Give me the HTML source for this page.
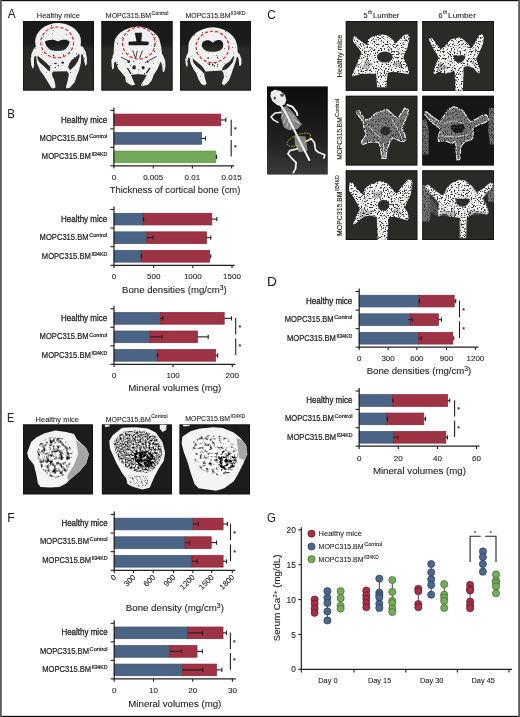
<!DOCTYPE html>
<html><head><meta charset="utf-8"><style>
html,body{margin:0;padding:0;background:#fff;width:520px;height:717px;overflow:hidden}
svg{display:block;will-change:transform;filter:blur(0.3px)}
text{font-family:"Liberation Sans", sans-serif;stroke:#231f20;stroke-width:0.1px}
.cl{stroke-width:0.22px}
</style></head><body>
<svg width="520" height="717" viewBox="0 0 520 717">
<defs><linearGradient id="gA" x1="0" y1="0" x2="0" y2="1"><stop offset="0" stop-color="#1a1a1a"/><stop offset="0.32" stop-color="#1b1b1b"/><stop offset="0.4" stop-color="#2a2a27"/><stop offset="1" stop-color="#2d2c29"/></linearGradient><linearGradient id="gAL" gradientUnits="userSpaceOnUse" x1="0" y1="0" x2="0" y2="510"><stop offset="0" stop-color="#1a1a1a"/><stop offset="0.32" stop-color="#1b1b1b"/><stop offset="0.4" stop-color="#2a2a27"/><stop offset="1" stop-color="#2d2c29"/></linearGradient><linearGradient id="gM" x1="0" y1="0" x2="0" y2="1"><stop offset="0" stop-color="#0c0c0c"/><stop offset="0.6" stop-color="#202020"/><stop offset="1" stop-color="#3a3a3a"/></linearGradient><clipPath id="c3"><rect x="23" y="21" width="71" height="69.5"/></clipPath><filter id="f4" x="0" y="0" width="1" height="1" color-interpolation-filters="sRGB"><feTurbulence type="fractalNoise" baseFrequency="0.9" numOctaves="2" seed="3" result="t"/><feColorMatrix in="t" type="matrix" values="0 0 0 0 0 0 0 0 0 0 0 0 0 0 0 -10 0 0 0 2.7" result="a"/><feFlood flood-color="#1a1a1a"/><feComposite in2="a" operator="in" result="d"/><feComposite in="d" in2="SourceGraphic" operator="atop"/></filter><clipPath id="c5"><rect x="101.5" y="21" width="71.0" height="69.5"/></clipPath><filter id="f6" x="0" y="0" width="1" height="1" color-interpolation-filters="sRGB"><feTurbulence type="fractalNoise" baseFrequency="0.9" numOctaves="2" seed="4" result="t"/><feColorMatrix in="t" type="matrix" values="0 0 0 0 0 0 0 0 0 0 0 0 0 0 0 -10 0 0 0 2.7" result="a"/><feFlood flood-color="#1a1a1a"/><feComposite in2="a" operator="in" result="d"/><feComposite in="d" in2="SourceGraphic" operator="atop"/></filter><clipPath id="c7"><rect x="180.2" y="21" width="70.70000000000002" height="69.5"/></clipPath><filter id="f8" x="0" y="0" width="1" height="1" color-interpolation-filters="sRGB"><feTurbulence type="fractalNoise" baseFrequency="0.9" numOctaves="2" seed="5" result="t"/><feColorMatrix in="t" type="matrix" values="0 0 0 0 0 0 0 0 0 0 0 0 0 0 0 -10 0 0 0 2.7" result="a"/><feFlood flood-color="#1a1a1a"/><feComposite in2="a" operator="in" result="d"/><feComposite in="d" in2="SourceGraphic" operator="atop"/></filter><clipPath id="c9"><rect x="345.8" y="21" width="71.5" height="69.8"/></clipPath><filter id="f10" x="0" y="0" width="1" height="1" color-interpolation-filters="sRGB"><feTurbulence type="fractalNoise" baseFrequency="0.7" numOctaves="2" seed="7" result="t"/><feColorMatrix in="t" type="matrix" values="0 0 0 0 0 0 0 0 0 0 0 0 0 0 0 -9 0 0 0 4.1" result="a"/><feFlood flood-color="#3a3a3a"/><feComposite in2="a" operator="in" result="d"/><feComposite in="d" in2="SourceGraphic" operator="atop"/></filter><clipPath id="c11"><rect x="422.3" y="21" width="71.69999999999999" height="69.8"/></clipPath><filter id="f12" x="0" y="0" width="1" height="1" color-interpolation-filters="sRGB"><feTurbulence type="fractalNoise" baseFrequency="0.7" numOctaves="2" seed="8" result="t"/><feColorMatrix in="t" type="matrix" values="0 0 0 0 0 0 0 0 0 0 0 0 0 0 0 -9 0 0 0 4.1" result="a"/><feFlood flood-color="#3a3a3a"/><feComposite in2="a" operator="in" result="d"/><feComposite in="d" in2="SourceGraphic" operator="atop"/></filter><clipPath id="c13"><rect x="345.8" y="95.8" width="71.5" height="69.60000000000001"/></clipPath><filter id="f14" x="0" y="0" width="1" height="1" color-interpolation-filters="sRGB"><feTurbulence type="fractalNoise" baseFrequency="0.7" numOctaves="2" seed="9" result="t"/><feColorMatrix in="t" type="matrix" values="0 0 0 0 0 0 0 0 0 0 0 0 0 0 0 -9 0 0 0 4.1" result="a"/><feFlood flood-color="#3a3a3a"/><feComposite in2="a" operator="in" result="d"/><feComposite in="d" in2="SourceGraphic" operator="atop"/></filter><clipPath id="c15"><rect x="422.3" y="95.8" width="71.69999999999999" height="69.60000000000001"/></clipPath><filter id="f16" x="0" y="0" width="1" height="1" color-interpolation-filters="sRGB"><feTurbulence type="fractalNoise" baseFrequency="0.7" numOctaves="2" seed="10" result="t"/><feColorMatrix in="t" type="matrix" values="0 0 0 0 0 0 0 0 0 0 0 0 0 0 0 -9 0 0 0 4.1" result="a"/><feFlood flood-color="#3a3a3a"/><feComposite in2="a" operator="in" result="d"/><feComposite in="d" in2="SourceGraphic" operator="atop"/></filter><clipPath id="c17"><rect x="345.8" y="170.4" width="71.5" height="69.6"/></clipPath><filter id="f18" x="0" y="0" width="1" height="1" color-interpolation-filters="sRGB"><feTurbulence type="fractalNoise" baseFrequency="0.7" numOctaves="2" seed="11" result="t"/><feColorMatrix in="t" type="matrix" values="0 0 0 0 0 0 0 0 0 0 0 0 0 0 0 -9 0 0 0 4.1" result="a"/><feFlood flood-color="#3a3a3a"/><feComposite in2="a" operator="in" result="d"/><feComposite in="d" in2="SourceGraphic" operator="atop"/></filter><clipPath id="c19"><rect x="422.3" y="170.4" width="71.69999999999999" height="69.6"/></clipPath><filter id="f20" x="0" y="0" width="1" height="1" color-interpolation-filters="sRGB"><feTurbulence type="fractalNoise" baseFrequency="0.7" numOctaves="2" seed="12" result="t"/><feColorMatrix in="t" type="matrix" values="0 0 0 0 0 0 0 0 0 0 0 0 0 0 0 -9 0 0 0 4.1" result="a"/><feFlood flood-color="#3a3a3a"/><feComposite in2="a" operator="in" result="d"/><feComposite in="d" in2="SourceGraphic" operator="atop"/></filter><clipPath id="c21"><rect x="267" y="86.4" width="60.80000000000001" height="88.19999999999999"/></clipPath><clipPath id="ce0"><rect x="23.1" y="424.5" width="69.80000000000001" height="69.80000000000001"/></clipPath><filter id="t23" x="0" y="0" width="1" height="1" color-interpolation-filters="sRGB"><feTurbulence type="fractalNoise" baseFrequency="1.0" numOctaves="2" seed="21" result="t"/><feColorMatrix in="t" type="matrix" values="2.2 0 0 0 -0.45 2.2 0 0 0 -0.45 2.2 0 0 0 -0.45 0 0 0 0 1" result="g"/><feComposite in="g" in2="SourceGraphic" operator="in"/></filter><filter id="t24" x="0" y="0" width="1" height="1" color-interpolation-filters="sRGB"><feTurbulence type="fractalNoise" baseFrequency="0.3" numOctaves="2" seed="22" result="t"/><feColorMatrix in="t" type="matrix" values="2.6 0 0 0 -0.55 2.6 0 0 0 -0.55 2.6 0 0 0 -0.55 0 0 0 0 1" result="g"/><feComposite in="g" in2="SourceGraphic" operator="in"/></filter><clipPath id="ce1"><rect x="101.9" y="424.5" width="70.0" height="69.80000000000001"/></clipPath><filter id="t26" x="0" y="0" width="1" height="1" color-interpolation-filters="sRGB"><feTurbulence type="fractalNoise" baseFrequency="0.55" numOctaves="2" seed="23" result="t"/><feColorMatrix in="t" type="matrix" values="2.0 0 0 0 -0.42 2.0 0 0 0 -0.42 2.0 0 0 0 -0.42 0 0 0 0 1" result="g"/><feComposite in="g" in2="SourceGraphic" operator="in"/></filter><filter id="t27" x="0" y="0" width="1" height="1" color-interpolation-filters="sRGB"><feTurbulence type="fractalNoise" baseFrequency="0.4" numOctaves="2" seed="24" result="t"/><feColorMatrix in="t" type="matrix" values="3.2 0 0 0 -1.45 3.2 0 0 0 -1.45 3.2 0 0 0 -1.45 0 0 0 0 1" result="g"/><feComposite in="g" in2="SourceGraphic" operator="in"/></filter><filter id="t28" x="0" y="0" width="1" height="1" color-interpolation-filters="sRGB"><feTurbulence type="fractalNoise" baseFrequency="0.8" numOctaves="2" seed="25" result="t"/><feColorMatrix in="t" type="matrix" values="2.2 0 0 0 -0.15 2.2 0 0 0 -0.15 2.2 0 0 0 -0.15 0 0 0 0 1" result="g"/><feComposite in="g" in2="SourceGraphic" operator="in"/></filter><clipPath id="ce2"><rect x="179.6" y="424.5" width="70.4" height="69.80000000000001"/></clipPath><filter id="t30" x="0" y="0" width="1" height="1" color-interpolation-filters="sRGB"><feTurbulence type="fractalNoise" baseFrequency="1.0" numOctaves="2" seed="26" result="t"/><feColorMatrix in="t" type="matrix" values="2.2 0 0 0 -0.45 2.2 0 0 0 -0.45 2.2 0 0 0 -0.45 0 0 0 0 1" result="g"/><feComposite in="g" in2="SourceGraphic" operator="in"/></filter><filter id="t31" x="0" y="0" width="1" height="1" color-interpolation-filters="sRGB"><feTurbulence type="fractalNoise" baseFrequency="0.32" numOctaves="2" seed="27" result="t"/><feColorMatrix in="t" type="matrix" values="2.8 0 0 0 -0.42 2.8 0 0 0 -0.42 2.8 0 0 0 -0.42 0 0 0 0 1" result="g"/><feComposite in="g" in2="SourceGraphic" operator="in"/></filter><filter id="t32" x="0" y="0" width="1" height="1" color-interpolation-filters="sRGB"><feTurbulence type="fractalNoise" baseFrequency="0.35" numOctaves="2" seed="28" result="t"/><feColorMatrix in="t" type="matrix" values="3.4 0 0 0 -1.2 3.4 0 0 0 -1.2 3.4 0 0 0 -1.2 0 0 0 0 1" result="g"/><feComposite in="g" in2="SourceGraphic" operator="in"/></filter></defs>
<rect width="520" height="717" fill="#fff"/>
<text x="7.7" y="18" font-size="12.8" textLength="7.9" lengthAdjust="spacingAndGlyphs" fill="#231f20" style="stroke-width:0.05px">A</text>
<text x="7.3" y="118" font-size="12.8" textLength="7.65" lengthAdjust="spacingAndGlyphs" fill="#231f20" style="stroke-width:0.05px">B</text>
<text x="267.2" y="18.6" font-size="12.8" textLength="8.4" lengthAdjust="spacingAndGlyphs" fill="#231f20" style="stroke-width:0.05px">C</text>
<text x="267.0" y="285.8" font-size="12.8" textLength="9.9" lengthAdjust="spacingAndGlyphs" fill="#231f20" style="stroke-width:0.05px">D</text>
<text x="7.0" y="421.5" font-size="12.8" textLength="7.2" lengthAdjust="spacingAndGlyphs" fill="#231f20" style="stroke-width:0.05px">E</text>
<text x="7.2" y="522.3" font-size="12.8" textLength="7.5" lengthAdjust="spacingAndGlyphs" fill="#231f20" style="stroke-width:0.05px">F</text>
<text x="267.0" y="522" font-size="12.8" textLength="8.85" lengthAdjust="spacingAndGlyphs" fill="#231f20" style="stroke-width:0.05px">G</text>
<rect x="113.9" y="114.08" width="106.90" height="11.70" fill="#9d3344" stroke="#8a2233" stroke-width="0.7"/>
<line x1="220.8" y1="119.935" x2="225.8" y2="119.935" stroke="#231f20" stroke-width="1.1"/>
<line x1="225.8" y1="117.83500000000001" x2="225.8" y2="122.035" stroke="#231f20" stroke-width="1.1"/>
<rect x="113.9" y="132.56" width="87.60" height="11.70" fill="#4b6384" stroke="#3a5272" stroke-width="0.7"/>
<line x1="201.5" y1="138.40500000000003" x2="205.5" y2="138.40500000000003" stroke="#231f20" stroke-width="1.1"/>
<line x1="205.5" y1="136.30500000000004" x2="205.5" y2="140.50500000000002" stroke="#231f20" stroke-width="1.1"/>
<rect x="113.9" y="151.03" width="101.90" height="11.70" fill="#74a85b" stroke="#5e9445" stroke-width="0.7"/>
<line x1="215.8" y1="156.875" x2="216.5" y2="156.875" stroke="#231f20" stroke-width="1.1"/>
<line x1="216.5" y1="154.775" x2="216.5" y2="158.975" stroke="#231f20" stroke-width="1.1"/>
<line x1="113.9" y1="107.4" x2="113.9" y2="166.41" stroke="#231f20" stroke-width="1.2"/>
<line x1="113.30000000000001" y1="165.81" x2="234.2" y2="165.81" stroke="#231f20" stroke-width="1.2"/>
<line x1="110.30000000000001" y1="110.4" x2="113.9" y2="110.4" stroke="#231f20" stroke-width="1.1"/>
<line x1="110.30000000000001" y1="128.87" x2="113.9" y2="128.87" stroke="#231f20" stroke-width="1.1"/>
<line x1="110.30000000000001" y1="147.34" x2="113.9" y2="147.34" stroke="#231f20" stroke-width="1.1"/>
<line x1="110.30000000000001" y1="165.81" x2="113.9" y2="165.81" stroke="#231f20" stroke-width="1.1"/>
<line x1="113.9" y1="165.81" x2="113.9" y2="168.61" stroke="#231f20" stroke-width="1.1"/>
<line x1="153.2" y1="165.81" x2="153.2" y2="168.61" stroke="#231f20" stroke-width="1.1"/>
<line x1="192.4" y1="165.81" x2="192.4" y2="168.61" stroke="#231f20" stroke-width="1.1"/>
<line x1="231.6" y1="165.81" x2="231.6" y2="168.61" stroke="#231f20" stroke-width="1.1"/>
<line x1="231.2" y1="119.635" x2="231.2" y2="136.10500000000002" stroke="#231f20" stroke-width="1.1"/>
<line x1="231.2" y1="140.10500000000002" x2="231.2" y2="156.575" stroke="#231f20" stroke-width="1.1"/>
<text x="233.89999999999998" y="131.87" font-size="7.0" fill="#231f20" >*</text>
<text x="233.89999999999998" y="150.34" font-size="7.0" fill="#231f20" >*</text>
<text x="113.9" y="179.8" font-size="8.0" text-anchor="middle" fill="#231f20" >0</text>
<text x="153.2" y="179.8" font-size="8.0" text-anchor="middle" fill="#231f20" >0.005</text>
<text x="192.4" y="179.8" font-size="8.0" text-anchor="middle" fill="#231f20" >0.01</text>
<text x="231.6" y="179.8" font-size="8.0" text-anchor="middle" fill="#231f20" >0.015</text>
<text x="109.7" y="193.4" font-size="9.0" textLength="130.7" lengthAdjust="spacingAndGlyphs" fill="#231f20" >Thickness of cortical bone (cm)</text>
<text x="107.2" y="122.6" font-size="8.6" text-anchor="end" textLength="46.2" lengthAdjust="spacingAndGlyphs" fill="#231f20" class="cl" style="stroke-width:0.3px">Healthy mice</text>
<text x="88.6" y="140.6" font-size="8.6" text-anchor="end" textLength="49.0" lengthAdjust="spacingAndGlyphs" fill="#231f20" class="cl">MOPC315.BM</text>
<text x="89.19999999999999" y="137.7" font-size="5.8" textLength="18.0" lengthAdjust="spacingAndGlyphs" fill="#231f20" class="cl">Control</text>
<text x="90.80000000000001" y="158.9" font-size="8.6" text-anchor="end" textLength="49.0" lengthAdjust="spacingAndGlyphs" fill="#231f20" class="cl">MOPC315.BM</text>
<text x="91.4" y="156.0" font-size="5.8" textLength="15.799999999999999" lengthAdjust="spacingAndGlyphs" fill="#231f20" class="cl">Il34KD</text>
<rect x="114.0" y="213.25" width="29.10" height="11.70" fill="#4b6384" stroke="#3a5272" stroke-width="0.7"/>
<rect x="143.1" y="213.25" width="68.70" height="11.70" fill="#9d3344" stroke="#8a2233" stroke-width="0.7"/>
<line x1="143.1" y1="219.10000000000002" x2="143.6" y2="219.10000000000002" stroke="#231f20" stroke-width="1.1"/>
<line x1="143.6" y1="217.00000000000003" x2="143.6" y2="221.20000000000002" stroke="#231f20" stroke-width="1.1"/>
<line x1="211.8" y1="219.10000000000002" x2="216.9" y2="219.10000000000002" stroke="#231f20" stroke-width="1.1"/>
<line x1="216.9" y1="217.00000000000003" x2="216.9" y2="221.20000000000002" stroke="#231f20" stroke-width="1.1"/>
<rect x="114.0" y="231.85" width="32.90" height="11.70" fill="#4b6384" stroke="#3a5272" stroke-width="0.7"/>
<rect x="146.9" y="231.85" width="59.70" height="11.70" fill="#9d3344" stroke="#8a2233" stroke-width="0.7"/>
<line x1="146.9" y1="237.70000000000002" x2="152.8" y2="237.70000000000002" stroke="#231f20" stroke-width="1.1"/>
<line x1="152.8" y1="235.60000000000002" x2="152.8" y2="239.8" stroke="#231f20" stroke-width="1.1"/>
<line x1="206.6" y1="237.70000000000002" x2="210.8" y2="237.70000000000002" stroke="#231f20" stroke-width="1.1"/>
<line x1="210.8" y1="235.60000000000002" x2="210.8" y2="239.8" stroke="#231f20" stroke-width="1.1"/>
<rect x="114.0" y="250.45" width="27.10" height="11.70" fill="#4b6384" stroke="#3a5272" stroke-width="0.7"/>
<rect x="141.1" y="250.45" width="68.60" height="11.70" fill="#9d3344" stroke="#8a2233" stroke-width="0.7"/>
<line x1="141.1" y1="256.3" x2="141.6" y2="256.3" stroke="#231f20" stroke-width="1.1"/>
<line x1="141.6" y1="254.20000000000002" x2="141.6" y2="258.40000000000003" stroke="#231f20" stroke-width="1.1"/>
<line x1="209.7" y1="256.3" x2="210.8" y2="256.3" stroke="#231f20" stroke-width="1.1"/>
<line x1="210.8" y1="254.20000000000002" x2="210.8" y2="258.40000000000003" stroke="#231f20" stroke-width="1.1"/>
<line x1="114.0" y1="206.5" x2="114.0" y2="265.90000000000003" stroke="#231f20" stroke-width="1.2"/>
<line x1="113.4" y1="265.3" x2="234.6" y2="265.3" stroke="#231f20" stroke-width="1.2"/>
<line x1="110.4" y1="209.5" x2="114.0" y2="209.5" stroke="#231f20" stroke-width="1.1"/>
<line x1="110.4" y1="228.1" x2="114.0" y2="228.1" stroke="#231f20" stroke-width="1.1"/>
<line x1="110.4" y1="246.7" x2="114.0" y2="246.7" stroke="#231f20" stroke-width="1.1"/>
<line x1="110.4" y1="265.3" x2="114.0" y2="265.3" stroke="#231f20" stroke-width="1.1"/>
<line x1="114.0" y1="265.3" x2="114.0" y2="268.1" stroke="#231f20" stroke-width="1.1"/>
<line x1="153.7" y1="265.3" x2="153.7" y2="268.1" stroke="#231f20" stroke-width="1.1"/>
<line x1="192.8" y1="265.3" x2="192.8" y2="268.1" stroke="#231f20" stroke-width="1.1"/>
<line x1="232.0" y1="265.3" x2="232.0" y2="268.1" stroke="#231f20" stroke-width="1.1"/>
<text x="114.0" y="279.3" font-size="8.0" text-anchor="middle" fill="#231f20" >0</text>
<text x="153.7" y="279.3" font-size="8.0" text-anchor="middle" fill="#231f20" >500</text>
<text x="192.8" y="279.3" font-size="8.0" text-anchor="middle" fill="#231f20" >1000</text>
<text x="232.0" y="279.3" font-size="8.0" text-anchor="middle" fill="#231f20" >1500</text>
<text x="122.1" y="293.4" font-size="9.0" textLength="104.6" lengthAdjust="spacingAndGlyphs" fill="#231f20" >Bone densities (mg/cm<tspan font-size="6.4" dy="-3.7">3</tspan><tspan dy="3.7">)</tspan></text>
<text x="107.2" y="221.6" font-size="8.6" text-anchor="end" textLength="46.2" lengthAdjust="spacingAndGlyphs" fill="#231f20" class="cl" style="stroke-width:0.3px">Healthy mice</text>
<text x="88.6" y="240.2" font-size="8.6" text-anchor="end" textLength="49.0" lengthAdjust="spacingAndGlyphs" fill="#231f20" class="cl">MOPC315.BM</text>
<text x="89.19999999999999" y="237.29999999999998" font-size="5.8" textLength="18.0" lengthAdjust="spacingAndGlyphs" fill="#231f20" class="cl">Control</text>
<text x="90.80000000000001" y="258.8" font-size="8.6" text-anchor="end" textLength="49.0" lengthAdjust="spacingAndGlyphs" fill="#231f20" class="cl">MOPC315.BM</text>
<text x="91.4" y="255.9" font-size="5.8" textLength="15.799999999999999" lengthAdjust="spacingAndGlyphs" fill="#231f20" class="cl">Il34KD</text>
<rect x="114.0" y="312.50" width="46.30" height="11.70" fill="#4b6384" stroke="#3a5272" stroke-width="0.7"/>
<rect x="160.3" y="312.50" width="63.90" height="11.70" fill="#9d3344" stroke="#8a2233" stroke-width="0.7"/>
<line x1="160.3" y1="318.35" x2="163.0" y2="318.35" stroke="#231f20" stroke-width="1.1"/>
<line x1="163.0" y1="316.25" x2="163.0" y2="320.45000000000005" stroke="#231f20" stroke-width="1.1"/>
<line x1="224.2" y1="318.35" x2="231.5" y2="318.35" stroke="#231f20" stroke-width="1.1"/>
<line x1="231.5" y1="316.25" x2="231.5" y2="320.45000000000005" stroke="#231f20" stroke-width="1.1"/>
<rect x="114.0" y="331.00" width="36.00" height="11.70" fill="#4b6384" stroke="#3a5272" stroke-width="0.7"/>
<rect x="150.0" y="331.00" width="47.40" height="11.70" fill="#9d3344" stroke="#8a2233" stroke-width="0.7"/>
<line x1="150.0" y1="336.85" x2="161.8" y2="336.85" stroke="#231f20" stroke-width="1.1"/>
<line x1="161.8" y1="334.75" x2="161.8" y2="338.95000000000005" stroke="#231f20" stroke-width="1.1"/>
<line x1="197.4" y1="336.85" x2="208.2" y2="336.85" stroke="#231f20" stroke-width="1.1"/>
<line x1="208.2" y1="334.75" x2="208.2" y2="338.95000000000005" stroke="#231f20" stroke-width="1.1"/>
<rect x="114.0" y="349.50" width="43.20" height="11.70" fill="#4b6384" stroke="#3a5272" stroke-width="0.7"/>
<rect x="157.2" y="349.50" width="58.50" height="11.70" fill="#9d3344" stroke="#8a2233" stroke-width="0.7"/>
<line x1="157.2" y1="355.35" x2="157.7" y2="355.35" stroke="#231f20" stroke-width="1.1"/>
<line x1="157.7" y1="353.25" x2="157.7" y2="357.45000000000005" stroke="#231f20" stroke-width="1.1"/>
<line x1="215.7" y1="355.35" x2="217.7" y2="355.35" stroke="#231f20" stroke-width="1.1"/>
<line x1="217.7" y1="353.25" x2="217.7" y2="357.45000000000005" stroke="#231f20" stroke-width="1.1"/>
<line x1="114.0" y1="305.8" x2="114.0" y2="364.90000000000003" stroke="#231f20" stroke-width="1.2"/>
<line x1="113.4" y1="364.3" x2="235.4" y2="364.3" stroke="#231f20" stroke-width="1.2"/>
<line x1="110.4" y1="308.8" x2="114.0" y2="308.8" stroke="#231f20" stroke-width="1.1"/>
<line x1="110.4" y1="327.3" x2="114.0" y2="327.3" stroke="#231f20" stroke-width="1.1"/>
<line x1="110.4" y1="345.8" x2="114.0" y2="345.8" stroke="#231f20" stroke-width="1.1"/>
<line x1="110.4" y1="364.3" x2="114.0" y2="364.3" stroke="#231f20" stroke-width="1.1"/>
<line x1="114.0" y1="364.3" x2="114.0" y2="367.1" stroke="#231f20" stroke-width="1.1"/>
<line x1="173.1" y1="364.3" x2="173.1" y2="367.1" stroke="#231f20" stroke-width="1.1"/>
<line x1="232.3" y1="364.3" x2="232.3" y2="367.1" stroke="#231f20" stroke-width="1.1"/>
<line x1="235.7" y1="318.05" x2="235.7" y2="334.55" stroke="#231f20" stroke-width="1.1"/>
<line x1="235.7" y1="338.55" x2="235.7" y2="355.05" stroke="#231f20" stroke-width="1.1"/>
<text x="238.39999999999998" y="330.3" font-size="7.0" fill="#231f20" >*</text>
<text x="238.39999999999998" y="348.8" font-size="7.0" fill="#231f20" >*</text>
<text x="114.0" y="377.8" font-size="8.0" text-anchor="middle" fill="#231f20" >0</text>
<text x="173.1" y="377.8" font-size="8.0" text-anchor="middle" fill="#231f20" >100</text>
<text x="232.3" y="377.8" font-size="8.0" text-anchor="middle" fill="#231f20" >200</text>
<text x="128.3" y="391.4" font-size="9.0" textLength="93.0" lengthAdjust="spacingAndGlyphs" fill="#231f20" >Mineral volumes (mg)</text>
<text x="107.2" y="320.9" font-size="8.6" text-anchor="end" textLength="46.2" lengthAdjust="spacingAndGlyphs" fill="#231f20" class="cl" style="stroke-width:0.3px">Healthy mice</text>
<text x="88.6" y="339.4" font-size="8.6" text-anchor="end" textLength="49.0" lengthAdjust="spacingAndGlyphs" fill="#231f20" class="cl">MOPC315.BM</text>
<text x="89.19999999999999" y="336.5" font-size="5.8" textLength="18.0" lengthAdjust="spacingAndGlyphs" fill="#231f20" class="cl">Control</text>
<text x="90.80000000000001" y="357.9" font-size="8.6" text-anchor="end" textLength="49.0" lengthAdjust="spacingAndGlyphs" fill="#231f20" class="cl">MOPC315.BM</text>
<text x="91.4" y="355.0" font-size="5.8" textLength="15.799999999999999" lengthAdjust="spacingAndGlyphs" fill="#231f20" class="cl">Il34KD</text>
<rect x="359.2" y="295.24" width="59.80" height="11.70" fill="#4b6384" stroke="#3a5272" stroke-width="0.7"/>
<rect x="419.0" y="295.24" width="35.20" height="11.70" fill="#9d3344" stroke="#8a2233" stroke-width="0.7"/>
<line x1="419.0" y1="301.08500000000004" x2="419.5" y2="301.08500000000004" stroke="#231f20" stroke-width="1.1"/>
<line x1="419.5" y1="298.985" x2="419.5" y2="303.18500000000006" stroke="#231f20" stroke-width="1.1"/>
<line x1="454.2" y1="301.08500000000004" x2="455.7" y2="301.08500000000004" stroke="#231f20" stroke-width="1.1"/>
<line x1="455.7" y1="298.985" x2="455.7" y2="303.18500000000006" stroke="#231f20" stroke-width="1.1"/>
<rect x="359.2" y="313.81" width="51.10" height="11.70" fill="#4b6384" stroke="#3a5272" stroke-width="0.7"/>
<rect x="410.3" y="313.81" width="28.20" height="11.70" fill="#9d3344" stroke="#8a2233" stroke-width="0.7"/>
<line x1="408.3" y1="319.65500000000003" x2="412.3" y2="319.65500000000003" stroke="#231f20" stroke-width="1.1"/>
<line x1="412.3" y1="317.555" x2="412.3" y2="321.75500000000005" stroke="#231f20" stroke-width="1.1"/>
<line x1="438.5" y1="319.65500000000003" x2="441.5" y2="319.65500000000003" stroke="#231f20" stroke-width="1.1"/>
<line x1="441.5" y1="317.555" x2="441.5" y2="321.75500000000005" stroke="#231f20" stroke-width="1.1"/>
<rect x="359.2" y="332.38" width="59.30" height="11.70" fill="#4b6384" stroke="#3a5272" stroke-width="0.7"/>
<rect x="418.5" y="332.38" width="34.30" height="11.70" fill="#9d3344" stroke="#8a2233" stroke-width="0.7"/>
<line x1="418.5" y1="338.225" x2="421.5" y2="338.225" stroke="#231f20" stroke-width="1.1"/>
<line x1="421.5" y1="336.125" x2="421.5" y2="340.32500000000005" stroke="#231f20" stroke-width="1.1"/>
<line x1="452.8" y1="338.225" x2="453.8" y2="338.225" stroke="#231f20" stroke-width="1.1"/>
<line x1="453.8" y1="336.125" x2="453.8" y2="340.32500000000005" stroke="#231f20" stroke-width="1.1"/>
<line x1="359.2" y1="288.5" x2="359.2" y2="347.81" stroke="#231f20" stroke-width="1.2"/>
<line x1="358.59999999999997" y1="347.21" x2="478.5" y2="347.21" stroke="#231f20" stroke-width="1.2"/>
<line x1="355.59999999999997" y1="291.5" x2="359.2" y2="291.5" stroke="#231f20" stroke-width="1.1"/>
<line x1="355.59999999999997" y1="310.07" x2="359.2" y2="310.07" stroke="#231f20" stroke-width="1.1"/>
<line x1="355.59999999999997" y1="328.64" x2="359.2" y2="328.64" stroke="#231f20" stroke-width="1.1"/>
<line x1="355.59999999999997" y1="347.21" x2="359.2" y2="347.21" stroke="#231f20" stroke-width="1.1"/>
<line x1="359.2" y1="347.21" x2="359.2" y2="350.01" stroke="#231f20" stroke-width="1.1"/>
<line x1="388.1" y1="347.21" x2="388.1" y2="350.01" stroke="#231f20" stroke-width="1.1"/>
<line x1="416.9" y1="347.21" x2="416.9" y2="350.01" stroke="#231f20" stroke-width="1.1"/>
<line x1="446.5" y1="347.21" x2="446.5" y2="350.01" stroke="#231f20" stroke-width="1.1"/>
<line x1="475.4" y1="347.21" x2="475.4" y2="350.01" stroke="#231f20" stroke-width="1.1"/>
<line x1="459.5" y1="300.785" x2="459.5" y2="317.355" stroke="#231f20" stroke-width="1.1"/>
<line x1="459.5" y1="321.355" x2="459.5" y2="337.925" stroke="#231f20" stroke-width="1.1"/>
<text x="462.2" y="313.07000000000005" font-size="7.0" fill="#231f20" >*</text>
<text x="462.2" y="331.64" font-size="7.0" fill="#231f20" >*</text>
<text x="359.2" y="361.3" font-size="8.0" text-anchor="middle" fill="#231f20" >0</text>
<text x="388.1" y="361.3" font-size="8.0" text-anchor="middle" fill="#231f20" >300</text>
<text x="416.9" y="361.3" font-size="8.0" text-anchor="middle" fill="#231f20" >600</text>
<text x="446.5" y="361.3" font-size="8.0" text-anchor="middle" fill="#231f20" >900</text>
<text x="475.4" y="361.3" font-size="8.0" text-anchor="middle" fill="#231f20" >1200</text>
<text x="366.7" y="374.4" font-size="9.0" textLength="104.6" lengthAdjust="spacingAndGlyphs" fill="#231f20" >Bone densities (mg/cm<tspan font-size="6.4" dy="-3.7">3</tspan><tspan dy="3.7">)</tspan></text>
<text x="352.3" y="304.2" font-size="8.6" text-anchor="end" textLength="46.2" lengthAdjust="spacingAndGlyphs" fill="#231f20" class="cl" style="stroke-width:0.3px">Healthy mice</text>
<text x="333.7" y="322.3" font-size="8.6" text-anchor="end" textLength="49.0" lengthAdjust="spacingAndGlyphs" fill="#231f20" class="cl">MOPC315.BM</text>
<text x="334.3" y="319.40000000000003" font-size="5.8" textLength="18.0" lengthAdjust="spacingAndGlyphs" fill="#231f20" class="cl">Control</text>
<text x="335.90000000000003" y="340.6" font-size="8.6" text-anchor="end" textLength="49.0" lengthAdjust="spacingAndGlyphs" fill="#231f20" class="cl">MOPC315.BM</text>
<text x="336.50000000000006" y="337.70000000000005" font-size="5.8" textLength="15.799999999999999" lengthAdjust="spacingAndGlyphs" fill="#231f20" class="cl">Il34KD</text>
<rect x="359.2" y="394.65" width="33.50" height="11.70" fill="#4b6384" stroke="#3a5272" stroke-width="0.7"/>
<rect x="392.7" y="394.65" width="55.00" height="11.70" fill="#9d3344" stroke="#8a2233" stroke-width="0.7"/>
<line x1="392.7" y1="400.5" x2="393.2" y2="400.5" stroke="#231f20" stroke-width="1.1"/>
<line x1="393.2" y1="398.4" x2="393.2" y2="402.6" stroke="#231f20" stroke-width="1.1"/>
<line x1="447.7" y1="400.5" x2="449.7" y2="400.5" stroke="#231f20" stroke-width="1.1"/>
<line x1="449.7" y1="398.4" x2="449.7" y2="402.6" stroke="#231f20" stroke-width="1.1"/>
<rect x="359.2" y="413.05" width="27.80" height="11.70" fill="#4b6384" stroke="#3a5272" stroke-width="0.7"/>
<rect x="387.0" y="413.05" width="36.80" height="11.70" fill="#9d3344" stroke="#8a2233" stroke-width="0.7"/>
<line x1="387.0" y1="418.90000000000003" x2="387.5" y2="418.90000000000003" stroke="#231f20" stroke-width="1.1"/>
<line x1="387.5" y1="416.8" x2="387.5" y2="421.00000000000006" stroke="#231f20" stroke-width="1.1"/>
<line x1="423.8" y1="418.90000000000003" x2="425.4" y2="418.90000000000003" stroke="#231f20" stroke-width="1.1"/>
<line x1="425.4" y1="416.8" x2="425.4" y2="421.00000000000006" stroke="#231f20" stroke-width="1.1"/>
<rect x="359.2" y="431.45" width="34.30" height="11.70" fill="#4b6384" stroke="#3a5272" stroke-width="0.7"/>
<rect x="393.5" y="431.45" width="52.30" height="11.70" fill="#9d3344" stroke="#8a2233" stroke-width="0.7"/>
<line x1="393.5" y1="437.3" x2="397.8" y2="437.3" stroke="#231f20" stroke-width="1.1"/>
<line x1="397.8" y1="435.2" x2="397.8" y2="439.40000000000003" stroke="#231f20" stroke-width="1.1"/>
<line x1="445.8" y1="437.3" x2="447.4" y2="437.3" stroke="#231f20" stroke-width="1.1"/>
<line x1="447.4" y1="435.2" x2="447.4" y2="439.40000000000003" stroke="#231f20" stroke-width="1.1"/>
<line x1="359.2" y1="388.0" x2="359.2" y2="446.8" stroke="#231f20" stroke-width="1.2"/>
<line x1="358.59999999999997" y1="446.2" x2="479.5" y2="446.2" stroke="#231f20" stroke-width="1.2"/>
<line x1="355.59999999999997" y1="391.0" x2="359.2" y2="391.0" stroke="#231f20" stroke-width="1.1"/>
<line x1="355.59999999999997" y1="409.4" x2="359.2" y2="409.4" stroke="#231f20" stroke-width="1.1"/>
<line x1="355.59999999999997" y1="427.8" x2="359.2" y2="427.8" stroke="#231f20" stroke-width="1.1"/>
<line x1="355.59999999999997" y1="446.2" x2="359.2" y2="446.2" stroke="#231f20" stroke-width="1.1"/>
<line x1="359.2" y1="446.2" x2="359.2" y2="449.0" stroke="#231f20" stroke-width="1.1"/>
<line x1="398.3" y1="446.2" x2="398.3" y2="449.0" stroke="#231f20" stroke-width="1.1"/>
<line x1="437.4" y1="446.2" x2="437.4" y2="449.0" stroke="#231f20" stroke-width="1.1"/>
<line x1="476.5" y1="446.2" x2="476.5" y2="449.0" stroke="#231f20" stroke-width="1.1"/>
<line x1="454.6" y1="400.2" x2="454.6" y2="416.6" stroke="#231f20" stroke-width="1.1"/>
<line x1="454.6" y1="420.6" x2="454.6" y2="437.0" stroke="#231f20" stroke-width="1.1"/>
<text x="457.3" y="412.4" font-size="7.0" fill="#231f20" >*</text>
<text x="457.3" y="430.8" font-size="7.0" fill="#231f20" >*</text>
<text x="359.2" y="460.6" font-size="8.0" text-anchor="middle" fill="#231f20" >0</text>
<text x="398.3" y="460.6" font-size="8.0" text-anchor="middle" fill="#231f20" >20</text>
<text x="437.4" y="460.6" font-size="8.0" text-anchor="middle" fill="#231f20" >40</text>
<text x="476.5" y="460.6" font-size="8.0" text-anchor="middle" fill="#231f20" >60</text>
<text x="372.9" y="473.8" font-size="9.0" textLength="93.0" lengthAdjust="spacingAndGlyphs" fill="#231f20" >Mineral volumes (mg)</text>
<text x="352.5" y="403.1" font-size="8.6" text-anchor="end" textLength="46.2" lengthAdjust="spacingAndGlyphs" fill="#231f20" class="cl" style="stroke-width:0.3px">Healthy mice</text>
<text x="333.9" y="421.3" font-size="8.6" text-anchor="end" textLength="49.0" lengthAdjust="spacingAndGlyphs" fill="#231f20" class="cl">MOPC315.BM</text>
<text x="334.5" y="418.40000000000003" font-size="5.8" textLength="18.0" lengthAdjust="spacingAndGlyphs" fill="#231f20" class="cl">Control</text>
<text x="336.1" y="439.6" font-size="8.6" text-anchor="end" textLength="49.0" lengthAdjust="spacingAndGlyphs" fill="#231f20" class="cl">MOPC315.BM</text>
<text x="336.70000000000005" y="436.70000000000005" font-size="5.8" textLength="15.799999999999999" lengthAdjust="spacingAndGlyphs" fill="#231f20" class="cl">Il34KD</text>
<rect x="114.2" y="518.16" width="78.90" height="11.70" fill="#4b6384" stroke="#3a5272" stroke-width="0.7"/>
<rect x="193.1" y="518.16" width="30.00" height="11.70" fill="#9d3344" stroke="#8a2233" stroke-width="0.7"/>
<line x1="193.1" y1="524.015" x2="198.5" y2="524.015" stroke="#231f20" stroke-width="1.1"/>
<line x1="198.5" y1="521.915" x2="198.5" y2="526.115" stroke="#231f20" stroke-width="1.1"/>
<line x1="223.1" y1="524.015" x2="227.4" y2="524.015" stroke="#231f20" stroke-width="1.1"/>
<line x1="227.4" y1="521.915" x2="227.4" y2="526.115" stroke="#231f20" stroke-width="1.1"/>
<rect x="114.2" y="536.79" width="70.90" height="11.70" fill="#4b6384" stroke="#3a5272" stroke-width="0.7"/>
<rect x="185.1" y="536.79" width="26.10" height="11.70" fill="#9d3344" stroke="#8a2233" stroke-width="0.7"/>
<line x1="185.1" y1="542.645" x2="189.7" y2="542.645" stroke="#231f20" stroke-width="1.1"/>
<line x1="189.7" y1="540.545" x2="189.7" y2="544.745" stroke="#231f20" stroke-width="1.1"/>
<line x1="211.2" y1="542.645" x2="216.5" y2="542.645" stroke="#231f20" stroke-width="1.1"/>
<line x1="216.5" y1="540.545" x2="216.5" y2="544.745" stroke="#231f20" stroke-width="1.1"/>
<rect x="114.2" y="555.42" width="77.80" height="11.70" fill="#4b6384" stroke="#3a5272" stroke-width="0.7"/>
<rect x="192.0" y="555.42" width="31.10" height="11.70" fill="#9d3344" stroke="#8a2233" stroke-width="0.7"/>
<line x1="192.0" y1="561.275" x2="197.2" y2="561.275" stroke="#231f20" stroke-width="1.1"/>
<line x1="197.2" y1="559.175" x2="197.2" y2="563.375" stroke="#231f20" stroke-width="1.1"/>
<line x1="223.1" y1="561.275" x2="226.6" y2="561.275" stroke="#231f20" stroke-width="1.1"/>
<line x1="226.6" y1="559.175" x2="226.6" y2="563.375" stroke="#231f20" stroke-width="1.1"/>
<line x1="114.2" y1="511.4" x2="114.2" y2="570.89" stroke="#231f20" stroke-width="1.2"/>
<line x1="113.60000000000001" y1="570.29" x2="235.4" y2="570.29" stroke="#231f20" stroke-width="1.2"/>
<line x1="110.60000000000001" y1="514.4" x2="114.2" y2="514.4" stroke="#231f20" stroke-width="1.1"/>
<line x1="110.60000000000001" y1="533.03" x2="114.2" y2="533.03" stroke="#231f20" stroke-width="1.1"/>
<line x1="110.60000000000001" y1="551.66" x2="114.2" y2="551.66" stroke="#231f20" stroke-width="1.1"/>
<line x1="110.60000000000001" y1="570.29" x2="114.2" y2="570.29" stroke="#231f20" stroke-width="1.1"/>
<line x1="114.2" y1="570.29" x2="114.2" y2="573.0899999999999" stroke="#231f20" stroke-width="1.1"/>
<line x1="133.5" y1="570.29" x2="133.5" y2="573.0899999999999" stroke="#231f20" stroke-width="1.1"/>
<line x1="153.2" y1="570.29" x2="153.2" y2="573.0899999999999" stroke="#231f20" stroke-width="1.1"/>
<line x1="173.4" y1="570.29" x2="173.4" y2="573.0899999999999" stroke="#231f20" stroke-width="1.1"/>
<line x1="192.8" y1="570.29" x2="192.8" y2="573.0899999999999" stroke="#231f20" stroke-width="1.1"/>
<line x1="211.8" y1="570.29" x2="211.8" y2="573.0899999999999" stroke="#231f20" stroke-width="1.1"/>
<line x1="232.3" y1="570.29" x2="232.3" y2="573.0899999999999" stroke="#231f20" stroke-width="1.1"/>
<line x1="230.5" y1="523.715" x2="230.5" y2="540.345" stroke="#231f20" stroke-width="1.1"/>
<line x1="230.5" y1="544.345" x2="230.5" y2="560.975" stroke="#231f20" stroke-width="1.1"/>
<text x="233.2" y="536.03" font-size="7.0" fill="#231f20" >*</text>
<text x="233.2" y="554.6600000000001" font-size="7.0" fill="#231f20" >*</text>
<text x="116.8" y="577.89" font-size="7.8" text-anchor="end" fill="#231f20" transform="rotate(-45 116.8 577.89)">0</text>
<text x="136.1" y="577.89" font-size="7.8" text-anchor="end" fill="#231f20" transform="rotate(-45 136.1 577.89)">300</text>
<text x="155.79999999999998" y="577.89" font-size="7.8" text-anchor="end" fill="#231f20" transform="rotate(-45 155.79999999999998 577.89)">600</text>
<text x="176.0" y="577.89" font-size="7.8" text-anchor="end" fill="#231f20" transform="rotate(-45 176.0 577.89)">900</text>
<text x="195.4" y="577.89" font-size="7.8" text-anchor="end" fill="#231f20" transform="rotate(-45 195.4 577.89)">1200</text>
<text x="214.4" y="577.89" font-size="7.8" text-anchor="end" fill="#231f20" transform="rotate(-45 214.4 577.89)">1500</text>
<text x="234.9" y="577.89" font-size="7.8" text-anchor="end" fill="#231f20" transform="rotate(-45 234.9 577.89)">1800</text>
<text x="125.8" y="611.2" font-size="9.0" textLength="98.1" lengthAdjust="spacingAndGlyphs" fill="#231f20" >Bone density (mg/cm<tspan font-size="6.4" dy="-3.7">3</tspan><tspan dy="3.7">)</tspan></text>
<text x="107.6" y="526.2" font-size="8.6" text-anchor="end" textLength="46.2" lengthAdjust="spacingAndGlyphs" fill="#231f20" class="cl" style="stroke-width:0.3px">Healthy mice</text>
<text x="89.0" y="544.3" font-size="8.6" text-anchor="end" textLength="49.0" lengthAdjust="spacingAndGlyphs" fill="#231f20" class="cl">MOPC315.BM</text>
<text x="89.6" y="541.4" font-size="5.8" textLength="18.0" lengthAdjust="spacingAndGlyphs" fill="#231f20" class="cl">Control</text>
<text x="91.19999999999999" y="562.7" font-size="8.6" text-anchor="end" textLength="49.0" lengthAdjust="spacingAndGlyphs" fill="#231f20" class="cl">MOPC315.BM</text>
<text x="91.79999999999998" y="559.8000000000001" font-size="5.8" textLength="15.799999999999999" lengthAdjust="spacingAndGlyphs" fill="#231f20" class="cl">Il34KD</text>
<rect x="114.2" y="627.01" width="73.60" height="11.70" fill="#4b6384" stroke="#3a5272" stroke-width="0.7"/>
<rect x="187.8" y="627.01" width="35.20" height="11.70" fill="#9d3344" stroke="#8a2233" stroke-width="0.7"/>
<line x1="187.8" y1="632.8649999999999" x2="202.4" y2="632.8649999999999" stroke="#231f20" stroke-width="1.1"/>
<line x1="202.4" y1="630.7649999999999" x2="202.4" y2="634.9649999999999" stroke="#231f20" stroke-width="1.1"/>
<line x1="223.0" y1="632.8649999999999" x2="226.5" y2="632.8649999999999" stroke="#231f20" stroke-width="1.1"/>
<line x1="226.5" y1="630.7649999999999" x2="226.5" y2="634.9649999999999" stroke="#231f20" stroke-width="1.1"/>
<rect x="114.2" y="645.54" width="55.70" height="11.70" fill="#4b6384" stroke="#3a5272" stroke-width="0.7"/>
<rect x="169.9" y="645.54" width="27.10" height="11.70" fill="#9d3344" stroke="#8a2233" stroke-width="0.7"/>
<line x1="169.9" y1="651.3949999999999" x2="181.5" y2="651.3949999999999" stroke="#231f20" stroke-width="1.1"/>
<line x1="181.5" y1="649.2949999999998" x2="181.5" y2="653.4949999999999" stroke="#231f20" stroke-width="1.1"/>
<line x1="197.0" y1="651.3949999999999" x2="202.4" y2="651.3949999999999" stroke="#231f20" stroke-width="1.1"/>
<line x1="202.4" y1="649.2949999999998" x2="202.4" y2="653.4949999999999" stroke="#231f20" stroke-width="1.1"/>
<rect x="114.2" y="664.07" width="68.20" height="11.70" fill="#4b6384" stroke="#3a5272" stroke-width="0.7"/>
<rect x="182.4" y="664.07" width="34.10" height="11.70" fill="#9d3344" stroke="#8a2233" stroke-width="0.7"/>
<line x1="182.4" y1="669.925" x2="202.7" y2="669.925" stroke="#231f20" stroke-width="1.1"/>
<line x1="202.7" y1="667.8249999999999" x2="202.7" y2="672.025" stroke="#231f20" stroke-width="1.1"/>
<line x1="216.5" y1="669.925" x2="221.9" y2="669.925" stroke="#231f20" stroke-width="1.1"/>
<line x1="221.9" y1="667.8249999999999" x2="221.9" y2="672.025" stroke="#231f20" stroke-width="1.1"/>
<line x1="114.2" y1="620.3" x2="114.2" y2="679.49" stroke="#231f20" stroke-width="1.2"/>
<line x1="113.60000000000001" y1="678.89" x2="235.8" y2="678.89" stroke="#231f20" stroke-width="1.2"/>
<line x1="110.60000000000001" y1="623.3" x2="114.2" y2="623.3" stroke="#231f20" stroke-width="1.1"/>
<line x1="110.60000000000001" y1="641.8299999999999" x2="114.2" y2="641.8299999999999" stroke="#231f20" stroke-width="1.1"/>
<line x1="110.60000000000001" y1="660.3599999999999" x2="114.2" y2="660.3599999999999" stroke="#231f20" stroke-width="1.1"/>
<line x1="110.60000000000001" y1="678.89" x2="114.2" y2="678.89" stroke="#231f20" stroke-width="1.1"/>
<line x1="114.2" y1="678.89" x2="114.2" y2="681.6899999999999" stroke="#231f20" stroke-width="1.1"/>
<line x1="153.5" y1="678.89" x2="153.5" y2="681.6899999999999" stroke="#231f20" stroke-width="1.1"/>
<line x1="192.7" y1="678.89" x2="192.7" y2="681.6899999999999" stroke="#231f20" stroke-width="1.1"/>
<line x1="232.4" y1="678.89" x2="232.4" y2="681.6899999999999" stroke="#231f20" stroke-width="1.1"/>
<line x1="230.4" y1="632.5649999999999" x2="230.4" y2="649.0949999999999" stroke="#231f20" stroke-width="1.1"/>
<line x1="230.4" y1="653.0949999999999" x2="230.4" y2="669.625" stroke="#231f20" stroke-width="1.1"/>
<text x="233.1" y="644.8299999999999" font-size="7.0" fill="#231f20" >*</text>
<text x="233.1" y="663.3599999999999" font-size="7.0" fill="#231f20" >*</text>
<text x="114.2" y="692.8" font-size="8.0" text-anchor="middle" fill="#231f20" >0</text>
<text x="153.5" y="692.8" font-size="8.0" text-anchor="middle" fill="#231f20" >10</text>
<text x="192.7" y="692.8" font-size="8.0" text-anchor="middle" fill="#231f20" >20</text>
<text x="232.4" y="692.8" font-size="8.0" text-anchor="middle" fill="#231f20" >30</text>
<text x="128.3" y="707.0" font-size="9.0" textLength="93.0" lengthAdjust="spacingAndGlyphs" fill="#231f20" >Mineral volumes (mg)</text>
<text x="107.6" y="635.3" font-size="8.6" text-anchor="end" textLength="46.2" lengthAdjust="spacingAndGlyphs" fill="#231f20" class="cl" style="stroke-width:0.3px">Healthy mice</text>
<text x="89.0" y="653.6" font-size="8.6" text-anchor="end" textLength="49.0" lengthAdjust="spacingAndGlyphs" fill="#231f20" class="cl">MOPC315.BM</text>
<text x="89.6" y="650.7" font-size="5.8" textLength="18.0" lengthAdjust="spacingAndGlyphs" fill="#231f20" class="cl">Control</text>
<text x="91.19999999999999" y="672.0" font-size="8.6" text-anchor="end" textLength="49.0" lengthAdjust="spacingAndGlyphs" fill="#231f20" class="cl">MOPC315.BM</text>
<text x="91.79999999999998" y="669.1" font-size="5.8" textLength="15.799999999999999" lengthAdjust="spacingAndGlyphs" fill="#231f20" class="cl">Il34KD</text>
<line x1="301.3" y1="527.3" x2="301.3" y2="669.9" stroke="#231f20" stroke-width="1.2"/>
<line x1="300.7" y1="669.3" x2="512.0" y2="669.3" stroke="#231f20" stroke-width="1.2"/>
<line x1="298.3" y1="669.3" x2="301.3" y2="669.3" stroke="#231f20" stroke-width="1.1"/>
<text x="295.90000000000003" y="672.4" font-size="8.4" text-anchor="end" fill="#231f20" >0</text>
<line x1="298.3" y1="634.42" x2="301.3" y2="634.42" stroke="#231f20" stroke-width="1.1"/>
<text x="295.90000000000003" y="637.52" font-size="8.4" text-anchor="end" fill="#231f20" >5</text>
<line x1="298.3" y1="599.55" x2="301.3" y2="599.55" stroke="#231f20" stroke-width="1.1"/>
<text x="295.90000000000003" y="602.65" font-size="8.4" text-anchor="end" fill="#231f20" >10</text>
<line x1="298.3" y1="564.67" x2="301.3" y2="564.67" stroke="#231f20" stroke-width="1.1"/>
<text x="295.90000000000003" y="567.77" font-size="8.4" text-anchor="end" fill="#231f20" >15</text>
<line x1="298.3" y1="529.8" x2="301.3" y2="529.8" stroke="#231f20" stroke-width="1.1"/>
<text x="295.90000000000003" y="532.9" font-size="8.4" text-anchor="end" fill="#231f20" >20</text>
<line x1="301.3" y1="669.3" x2="301.3" y2="672.5" stroke="#231f20" stroke-width="1.1"/>
<line x1="354.0" y1="669.3" x2="354.0" y2="672.5" stroke="#231f20" stroke-width="1.1"/>
<line x1="405.8" y1="669.3" x2="405.8" y2="672.5" stroke="#231f20" stroke-width="1.1"/>
<line x1="457.3" y1="669.3" x2="457.3" y2="672.5" stroke="#231f20" stroke-width="1.1"/>
<line x1="509.0" y1="669.3" x2="509.0" y2="672.5" stroke="#231f20" stroke-width="1.1"/>
<text x="327.9" y="682.8" font-size="7.4" text-anchor="middle" fill="#231f20" >Day 0</text>
<text x="379.6" y="682.8" font-size="7.4" text-anchor="middle" fill="#231f20" >Day 15</text>
<text x="431.7" y="682.8" font-size="7.4" text-anchor="middle" fill="#231f20" >Day 30</text>
<text x="483.2" y="682.8" font-size="7.4" text-anchor="middle" fill="#231f20" >Day 45</text>
<text transform="translate(280.2 641.2) rotate(-90)" font-size="9" fill="#231f20" textLength="86.6" lengthAdjust="spacingAndGlyphs">Serum Ca<tspan font-size="6" dy="-3.2">2+</tspan><tspan dy="3.2"> (mg/dL)</tspan></text>
<line x1="314.6" y1="599.55" x2="314.6" y2="612.8" stroke="#333" stroke-width="0.9"/>
<circle cx="314.6" cy="599.55" r="3.6" fill="#aa2f46" stroke="#4a1a22" stroke-width="0.6"/>
<circle cx="314.6" cy="603.73" r="3.6" fill="#aa2f46" stroke="#4a1a22" stroke-width="0.6"/>
<circle cx="314.6" cy="608.62" r="3.6" fill="#aa2f46" stroke="#4a1a22" stroke-width="0.6"/>
<circle cx="314.6" cy="612.8" r="3.6" fill="#aa2f46" stroke="#4a1a22" stroke-width="0.6"/>
<line x1="327.4" y1="591.18" x2="327.4" y2="620.47" stroke="#333" stroke-width="0.9"/>
<circle cx="327.4" cy="591.18" r="3.6" fill="#4a6790" stroke="#23324a" stroke-width="0.6"/>
<circle cx="327.4" cy="597.81" r="3.6" fill="#4a6790" stroke="#23324a" stroke-width="0.6"/>
<circle cx="327.4" cy="603.04" r="3.6" fill="#4a6790" stroke="#23324a" stroke-width="0.6"/>
<circle cx="327.4" cy="611.41" r="3.6" fill="#4a6790" stroke="#23324a" stroke-width="0.6"/>
<circle cx="327.4" cy="620.47" r="3.6" fill="#4a6790" stroke="#23324a" stroke-width="0.6"/>
<line x1="340.6" y1="591.18" x2="340.6" y2="608.62" stroke="#333" stroke-width="0.9"/>
<circle cx="340.6" cy="591.18" r="3.6" fill="#73ad58" stroke="#3c5a2c" stroke-width="0.6"/>
<circle cx="340.6" cy="598.15" r="3.6" fill="#73ad58" stroke="#3c5a2c" stroke-width="0.6"/>
<circle cx="340.6" cy="605.83" r="3.6" fill="#73ad58" stroke="#3c5a2c" stroke-width="0.6"/>
<circle cx="340.6" cy="608.62" r="3.6" fill="#73ad58" stroke="#3c5a2c" stroke-width="0.6"/>
<line x1="366.3" y1="590.48" x2="366.3" y2="607.22" stroke="#333" stroke-width="0.9"/>
<circle cx="366.3" cy="590.48" r="3.6" fill="#aa2f46" stroke="#4a1a22" stroke-width="0.6"/>
<circle cx="366.3" cy="595.37" r="3.6" fill="#aa2f46" stroke="#4a1a22" stroke-width="0.6"/>
<circle cx="366.3" cy="598.85" r="3.6" fill="#aa2f46" stroke="#4a1a22" stroke-width="0.6"/>
<circle cx="366.3" cy="603.04" r="3.6" fill="#aa2f46" stroke="#4a1a22" stroke-width="0.6"/>
<circle cx="366.3" cy="607.22" r="3.6" fill="#aa2f46" stroke="#4a1a22" stroke-width="0.6"/>
<line x1="379.3" y1="578.62" x2="379.3" y2="607.92" stroke="#333" stroke-width="0.9"/>
<circle cx="379.3" cy="578.62" r="3.6" fill="#4a6790" stroke="#23324a" stroke-width="0.6"/>
<circle cx="379.3" cy="592.57" r="3.6" fill="#4a6790" stroke="#23324a" stroke-width="0.6"/>
<circle cx="379.3" cy="595.37" r="3.6" fill="#4a6790" stroke="#23324a" stroke-width="0.6"/>
<circle cx="379.3" cy="597.46" r="3.6" fill="#4a6790" stroke="#23324a" stroke-width="0.6"/>
<circle cx="379.3" cy="603.73" r="3.6" fill="#4a6790" stroke="#23324a" stroke-width="0.6"/>
<circle cx="379.3" cy="607.92" r="3.6" fill="#4a6790" stroke="#23324a" stroke-width="0.6"/>
<line x1="392.3" y1="580.02" x2="392.3" y2="612.11" stroke="#333" stroke-width="0.9"/>
<circle cx="392.3" cy="580.02" r="3.6" fill="#73ad58" stroke="#3c5a2c" stroke-width="0.6"/>
<circle cx="392.3" cy="591.88" r="3.6" fill="#73ad58" stroke="#3c5a2c" stroke-width="0.6"/>
<circle cx="392.3" cy="600.94" r="3.6" fill="#73ad58" stroke="#3c5a2c" stroke-width="0.6"/>
<circle cx="392.3" cy="603.04" r="3.6" fill="#73ad58" stroke="#3c5a2c" stroke-width="0.6"/>
<circle cx="392.3" cy="608.62" r="3.6" fill="#73ad58" stroke="#3c5a2c" stroke-width="0.6"/>
<circle cx="392.3" cy="612.11" r="3.6" fill="#73ad58" stroke="#3c5a2c" stroke-width="0.6"/>
<line x1="418.3" y1="588.74" x2="418.3" y2="607.22" stroke="#333" stroke-width="0.9"/>
<circle cx="418.3" cy="588.74" r="3.6" fill="#aa2f46" stroke="#4a1a22" stroke-width="0.6"/>
<circle cx="418.3" cy="591.18" r="3.6" fill="#aa2f46" stroke="#4a1a22" stroke-width="0.6"/>
<circle cx="418.3" cy="604.08" r="3.6" fill="#aa2f46" stroke="#4a1a22" stroke-width="0.6"/>
<circle cx="418.3" cy="607.22" r="3.6" fill="#aa2f46" stroke="#4a1a22" stroke-width="0.6"/>
<line x1="431.2" y1="563.98" x2="431.2" y2="594.67" stroke="#333" stroke-width="0.9"/>
<circle cx="431.2" cy="563.98" r="3.6" fill="#4a6790" stroke="#23324a" stroke-width="0.6"/>
<circle cx="431.2" cy="572.35" r="3.6" fill="#4a6790" stroke="#23324a" stroke-width="0.6"/>
<circle cx="431.2" cy="579.32" r="3.6" fill="#4a6790" stroke="#23324a" stroke-width="0.6"/>
<circle cx="431.2" cy="584.9" r="3.6" fill="#4a6790" stroke="#23324a" stroke-width="0.6"/>
<circle cx="431.2" cy="594.67" r="3.6" fill="#4a6790" stroke="#23324a" stroke-width="0.6"/>
<line x1="444.2" y1="584.2" x2="444.2" y2="607.92" stroke="#333" stroke-width="0.9"/>
<circle cx="444.2" cy="584.2" r="3.6" fill="#73ad58" stroke="#3c5a2c" stroke-width="0.6"/>
<circle cx="444.2" cy="594.67" r="3.6" fill="#73ad58" stroke="#3c5a2c" stroke-width="0.6"/>
<circle cx="444.2" cy="597.46" r="3.6" fill="#73ad58" stroke="#3c5a2c" stroke-width="0.6"/>
<circle cx="444.2" cy="600.94" r="3.6" fill="#73ad58" stroke="#3c5a2c" stroke-width="0.6"/>
<circle cx="444.2" cy="607.92" r="3.6" fill="#73ad58" stroke="#3c5a2c" stroke-width="0.6"/>
<line x1="470.1" y1="584.9" x2="470.1" y2="608.27" stroke="#333" stroke-width="0.9"/>
<circle cx="470.1" cy="584.9" r="3.6" fill="#aa2f46" stroke="#4a1a22" stroke-width="0.6"/>
<circle cx="470.1" cy="589.09" r="3.6" fill="#aa2f46" stroke="#4a1a22" stroke-width="0.6"/>
<circle cx="470.1" cy="590.48" r="3.6" fill="#aa2f46" stroke="#4a1a22" stroke-width="0.6"/>
<circle cx="470.1" cy="601.64" r="3.6" fill="#aa2f46" stroke="#4a1a22" stroke-width="0.6"/>
<circle cx="470.1" cy="605.13" r="3.6" fill="#aa2f46" stroke="#4a1a22" stroke-width="0.6"/>
<circle cx="470.1" cy="608.27" r="3.6" fill="#aa2f46" stroke="#4a1a22" stroke-width="0.6"/>
<line x1="482.9" y1="551.42" x2="482.9" y2="571.65" stroke="#333" stroke-width="0.9"/>
<circle cx="482.9" cy="551.42" r="3.6" fill="#4a6790" stroke="#23324a" stroke-width="0.6"/>
<circle cx="482.9" cy="557.0" r="3.6" fill="#4a6790" stroke="#23324a" stroke-width="0.6"/>
<circle cx="482.9" cy="563.98" r="3.6" fill="#4a6790" stroke="#23324a" stroke-width="0.6"/>
<circle cx="482.9" cy="571.65" r="3.6" fill="#4a6790" stroke="#23324a" stroke-width="0.6"/>
<line x1="496.0" y1="574.44" x2="496.0" y2="593.27" stroke="#333" stroke-width="0.9"/>
<circle cx="496.0" cy="574.44" r="3.6" fill="#73ad58" stroke="#3c5a2c" stroke-width="0.6"/>
<circle cx="496.0" cy="580.72" r="3.6" fill="#73ad58" stroke="#3c5a2c" stroke-width="0.6"/>
<circle cx="496.0" cy="582.81" r="3.6" fill="#73ad58" stroke="#3c5a2c" stroke-width="0.6"/>
<circle cx="496.0" cy="586.3" r="3.6" fill="#73ad58" stroke="#3c5a2c" stroke-width="0.6"/>
<circle cx="496.0" cy="593.27" r="3.6" fill="#73ad58" stroke="#3c5a2c" stroke-width="0.6"/>
<polyline points="470.1,562 470.1,536.3 480.7,536.3" fill="none" stroke="#231f20" stroke-width="1.1"/>
<polyline points="485.1,536.3 496,536.3 496,562" fill="none" stroke="#231f20" stroke-width="1.1"/>
<text x="474.0" y="535.0" font-size="5.5" fill="#231f20" >*</text>
<text x="489.5" y="535.0" font-size="5.5" fill="#231f20" >*</text>
<circle cx="311.5" cy="533.7" r="3.6" fill="#aa2f46" stroke="#4a1a22" stroke-width="0.6"/>
<circle cx="311.5" cy="546.5" r="3.6" fill="#4a6790" stroke="#23324a" stroke-width="0.6"/>
<circle cx="311.5" cy="559.2" r="3.6" fill="#73ad58" stroke="#3c5a2c" stroke-width="0.6"/>
<text x="318.6" y="536.3" font-size="8.0" textLength="43.3" lengthAdjust="spacingAndGlyphs" fill="#231f20" >Healthy mice</text>
<text x="318.6" y="549.0" font-size="8.0" textLength="45.0" lengthAdjust="spacingAndGlyphs" fill="#231f20" >MOPC315.BM</text>
<text x="364.2" y="546.0" font-size="5.6" textLength="18.0" lengthAdjust="spacingAndGlyphs" fill="#231f20" >Control</text>
<text x="318.6" y="561.6" font-size="8.0" textLength="45.0" lengthAdjust="spacingAndGlyphs" fill="#231f20" >MOPC315.BM</text>
<text x="364.2" y="558.6" font-size="5.6" textLength="14.6" lengthAdjust="spacingAndGlyphs" fill="#231f20" >Il34KD</text>
<rect x="23" y="21" width="71" height="69.5" fill="url(#gA)"/>
<rect x="23.4" y="21.4" width="70.2" height="68.7" fill="none" stroke="#121212" stroke-width="0.8"/>
<rect x="101.5" y="21" width="71.0" height="69.5" fill="url(#gA)"/>
<rect x="101.9" y="21.4" width="70.2" height="68.7" fill="none" stroke="#121212" stroke-width="0.8"/>
<rect x="180.2" y="21" width="70.70000000000002" height="69.5" fill="url(#gA)"/>
<rect x="180.6" y="21.4" width="69.90000000000002" height="68.7" fill="none" stroke="#121212" stroke-width="0.8"/>
<rect x="345.8" y="21" width="71.5" height="69.8" fill="#2a2a27"/>
<rect x="346.2" y="21.4" width="70.7" height="69.0" fill="none" stroke="#151513" stroke-width="0.8"/>
<rect x="422.3" y="21" width="71.69999999999999" height="69.8" fill="#2a2a27"/>
<rect x="422.7" y="21.4" width="70.89999999999999" height="69.0" fill="none" stroke="#151513" stroke-width="0.8"/>
<rect x="345.8" y="95.8" width="71.5" height="69.60000000000001" fill="#2a2a27"/>
<rect x="346.2" y="96.2" width="70.7" height="68.80000000000001" fill="none" stroke="#151513" stroke-width="0.8"/>
<rect x="422.3" y="95.8" width="71.69999999999999" height="69.60000000000001" fill="#161616"/>
<rect x="422.7" y="96.2" width="70.89999999999999" height="68.80000000000001" fill="none" stroke="#151513" stroke-width="0.8"/>
<rect x="345.8" y="170.4" width="71.5" height="69.6" fill="#2a2a27"/>
<rect x="346.2" y="170.8" width="70.7" height="68.8" fill="none" stroke="#151513" stroke-width="0.8"/>
<rect x="422.3" y="170.4" width="71.69999999999999" height="69.6" fill="#2a2a27"/>
<rect x="422.7" y="170.8" width="70.89999999999999" height="68.8" fill="none" stroke="#151513" stroke-width="0.8"/>
<rect x="23.1" y="424.5" width="69.80000000000001" height="69.80000000000001" fill="#1c1c1a"/>
<rect x="23.5" y="424.9" width="69.00000000000001" height="69.00000000000001" fill="none" stroke="#0e0e0e" stroke-width="0.8"/>
<rect x="101.9" y="424.5" width="70.0" height="69.80000000000001" fill="#1c1c1a"/>
<rect x="102.30000000000001" y="424.9" width="69.2" height="69.00000000000001" fill="none" stroke="#0e0e0e" stroke-width="0.8"/>
<rect x="179.6" y="424.5" width="70.4" height="69.80000000000001" fill="#1c1c1a"/>
<rect x="180.0" y="424.9" width="69.60000000000001" height="69.00000000000001" fill="none" stroke="#0e0e0e" stroke-width="0.8"/>
<rect x="267" y="86.4" width="60.8" height="88.2" fill="url(#gM)"/>
<g clip-path="url(#c3)"><g filter="url(#f4)"><g transform="translate(23 21) scale(0.13654)">
<g fill="#f1f1f1">
<ellipse cx="257" cy="150" rx="168" ry="135"/>
<path d="M100,180 L78,205 L62,240 L56,280 L60,322 L70,348 L78,345 L81,322 L80,285 L84,258 L97,258 L102,311 L125,363 L156,405 L182,447 L208,488 L219,494 L237,488 L237,468 L228,430 L214,400 L212,382 L222,370 L322,368 L333,380 L335,395 L325,447 L314,483 L320,494 L343,488 L379,447 L395,400 L411,358 L424,306 L426,246 L436,244 L442,264 L450,301 L455,324 L460,327 L468,311 L468,270 L460,228 L440,190 L420,180 Z"/>
</g>
<g fill="url(#gAL)">
<path d="M160,152 C190,135 228,132 255,150 C285,133 322,135 342,152 C336,182 318,205 298,214 C268,222 232,222 206,214 C186,205 168,182 160,152 Z"/>
<path d="M105,252 L135,276 L172,308 L200,336 L196,370 L177,355 L151,330 L125,308 L108,282 Z"/>
<path d="M412,238 L384,268 L358,283 L340,309 L330,338 L345,360 L362,344 L380,328 L401,296 L415,258 Z"/>
<ellipse cx="224" cy="254" rx="6" ry="6"/><ellipse cx="238" cy="311" rx="10" ry="6"/><ellipse cx="296" cy="249" rx="5" ry="6"/><ellipse cx="290" cy="305" rx="10" ry="8"/><ellipse cx="260" cy="327" rx="6" ry="4"/>
</g>
<ellipse cx="250" cy="157" rx="120" ry="113" fill="none" stroke="#e0302c" stroke-width="9" stroke-dasharray="24 14"/>
</g></g></g>
<g clip-path="url(#c5)"><g filter="url(#f6)"><g transform="translate(101 21) scale(0.13846)">
<g fill="#f1f1f1">
<path d="M100,135 C125,80 190,46 262,40 C335,43 392,75 420,128 C434,170 440,215 440,250 L92,250 C92,215 92,170 100,135 Z"/>
<path d="M98,225 L85,250 L75,286 L77,328 L82,351 L93,343 L95,302 L103,291 L110,302 L123,343 L154,379 L175,405 L180,441 L221,466 L247,461 L242,451 L221,400 L216,389 L267,384 L330,389 L314,420 L289,461 L294,471 L340,461 L366,430 L381,389 L407,348 L425,307 L427,297 L435,302 L443,328 L445,363 L451,371 L458,363 L466,328 L463,286 L448,250 L435,225 Z"/>
</g>
<g fill="url(#gAL)">
<path d="M244,84 L296,84 L292,146 L345,150 L342,176 L200,176 L198,150 L256,146 Z"/>
<path d="M186,340 L195,337 L221,380 L212,385 Z"/>
<path d="M349,335 L358,341 L332,380 L323,375 Z"/>
<circle cx="200" cy="294" r="10"/><circle cx="337" cy="294" r="8"/>
<ellipse cx="239" cy="335" rx="13" ry="15"/><ellipse cx="304" cy="338" rx="11" ry="13"/><ellipse cx="272" cy="352" rx="4" ry="4"/>
</g>
<g stroke="#1c1c1c" stroke-width="6" fill="none"><path d="M144,261 L195,286 M402,256 L345,286 M228,212 L250,270 L262,215 M300,212 L278,270"/></g>
<ellipse cx="273" cy="160" rx="118" ry="115" fill="none" stroke="#e0302c" stroke-width="9" stroke-dasharray="24 14"/>
</g></g></g>
<g clip-path="url(#c7)"><g filter="url(#f8)"><g transform="translate(180 21) scale(0.13654)">
<g fill="#f1f1f1">
<path d="M62,190 C60,110 150,48 240,46 C330,48 418,110 420,190 C420,230 430,250 430,262 L60,262 C56,240 62,220 62,190 Z"/>
<path d="M58,235 L52,244 L39,280 L42,317 L49,335 L57,332 L55,296 L60,270 L70,270 L78,311 L99,353 L120,384 L135,426 L156,462 L180,473 L195,460 L180,410 L177,384 L188,369 L306,363 L319,384 L322,410 L306,457 L322,473 L358,436 L374,395 L390,348 L405,306 L416,264 L424,264 L431,290 L434,327 L442,330 L450,317 L450,280 L437,244 L430,235 Z"/>
</g>
<g fill="url(#gAL)">
<path d="M160,178 C160,150 190,138 215,142 C228,146 236,156 242,160 C250,148 268,138 290,140 C312,145 320,165 316,186 C310,210 282,225 240,226 C195,226 162,210 160,178 Z"/>
<path d="M91,272 L125,301 L162,332 L188,369 L177,384 L151,358 L120,332 L99,306 Z"/>
<path d="M392,257 L364,296 L332,316 L312,342 L306,363 L340,353 L364,332 L387,301 L397,262 Z"/>
<circle cx="206" cy="272" r="6"/><ellipse cx="214" cy="316" rx="6" ry="8"/><ellipse cx="240" cy="319" rx="6" ry="8"/><ellipse cx="252" cy="330" rx="5" ry="6"/><ellipse cx="275" cy="268" rx="5" ry="6"/>
</g>
<ellipse cx="238" cy="190" rx="120" ry="115" fill="none" stroke="#e0302c" stroke-width="9" stroke-dasharray="24 14"/>
</g></g></g>
<g clip-path="url(#c9)"><g filter="url(#f10)"><g transform="translate(345.8 21) scale(0.13942)">
<g fill="#f2f2f2">
<path d="M56,108 L70,112 L112,147 L154,175 L161,133 C180,115 210,100 265,97 C300,100 335,125 357,161 L420,98 L448,95 L459,119 L441,196 L413,259 L441,322 L455,364 L448,382 L392,371 L336,364 L301,371 L294,434 L291,476 L226,476 L224,462 L217,381 L175,378 L105,381 L49,399 L45,385 L56,364 L84,294 L112,231 L112,224 L91,196 L52,147 Z"/>
</g>
<g fill="#2a2a27">
<ellipse cx="280" cy="258" rx="56" ry="40"/>
</g>
<g fill="#777" opacity="0.5">
<path d="M140,280 L200,310 L110,355 Z"/><path d="M380,280 L330,310 L410,345 Z"/>
</g>
</g></g></g>
<g clip-path="url(#c11)"><g filter="url(#f12)"><g transform="translate(422.3 21) scale(0.13788)">
<g fill="#f2f2f2">
<path d="M50,127 L71,124 L106,170 L135,205 L170,175 L205,134 L268,118 L294,131 L337,170 L358,198 L414,99 L436,96 L446,120 L439,170 L414,227 L390,276 L407,319 L418,354 L414,382 L393,368 L372,340 L330,326 L301,333 L294,508 L241,508 L234,368 L227,361 L198,375 L163,382 L120,368 L88,386 L81,375 L92,326 L120,269 L106,241 L78,198 L50,142 Z"/>
</g>
<g fill="#2a2a27">
<path d="M227,250 L310,250 C310,280 292,303 268,303 C244,303 227,280 227,250 Z"/>
</g>
<g fill="#777" opacity="0.5">
<path d="M120,300 L200,340 L100,370 Z"/><path d="M345,290 L380,300 L400,350 Z"/>
</g>
</g></g></g>
<g clip-path="url(#c13)"><g filter="url(#f14)"><g transform="translate(345.8 95.8) scale(0.13942)">
<path fill="#7a7a7a" stroke="#f2f2f2" stroke-width="9" stroke-linejoin="round" d="M80,111 L97,108 L122,150 L143,175 L179,158 L207,133 L236,115 L260,108 L295,97 L338,136 L373,165 L409,108 L423,87 L448,101 L444,136 L416,200 L402,236 L423,278 L430,314 L416,328 L380,321 L338,300 L316,328 L295,392 L288,449 L259,449 L250,371 L236,335 L200,328 L158,335 L126,349 L111,335 L122,307 L147,278 L129,229 L126,190 L108,165 L80,129 Z"/>
<g fill="none" stroke="#f2f2f2" stroke-width="7" opacity="0.8"><path d="M150,200 L200,260 L250,300 M330,170 L380,250 L400,300 M270,330 L275,440"/></g>
<g fill="#2a2a27"><ellipse cx="285" cy="252" rx="36" ry="32"/></g>
</g></g></g>
<g clip-path="url(#c15)"><g filter="url(#f16)"><g transform="translate(422.3 95.8) scale(0.13788)">
<g fill="#8a8a8a" opacity="0.7">
<path d="M0,174 L30,170 L48,260 L45,425 L0,425 Z"/>
<path d="M484,87 L520,87 L520,353 L490,353 L478,250 Z"/>
</g>
<path fill="#787878" stroke="#f2f2f2" stroke-width="8" stroke-linejoin="round" d="M16,120 L30,116 L84,159 L127,188 L163,138 L185,102 L230,78 L252,87 L295,109 L338,174 L352,188 L395,166 L438,141 L467,138 L481,174 L453,195 L410,210 L367,231 L370,296 L359,317 L309,332 L280,368 L273,461 L252,468 L245,400 L242,332 L213,346 L163,324 L120,332 L113,303 L120,281 L134,246 L120,231 L70,195 L19,138 Z"/>
<g fill="none" stroke="#f2f2f2" stroke-width="6" opacity="0.8"><path d="M160,200 L230,180 L300,200 M140,290 L240,300 L340,280 M60,170 L130,215"/></g>
<g fill="#161616"><path d="M206,215 L295,202 L309,231 L288,267 L252,270 C225,268 206,250 206,215 Z"/></g>
</g></g></g>
<g clip-path="url(#c17)"><g filter="url(#f18)"><g transform="translate(345.8 170.4) scale(0.13942)">
<g fill="#f2f2f2">
<path d="M23,139 L26,89 L47,86 L87,139 L122,175 L136,132 L179,97 L229,79 L260,75 L302,97 L345,146 L366,168 L395,125 L444,65 L472,68 L479,89 L465,175 L437,231 L423,267 L444,302 L451,338 L444,359 L394,345 L345,331 L309,338 L295,506 L229,506 L222,338 L179,324 L136,331 L101,352 L72,381 L51,388 L58,366 L80,317 L101,281 L86,246 L58,196 L23,146 Z"/>
</g>
<g fill="#2a2a27"><circle cx="270" cy="250" r="40"/></g>
<g fill="#777" opacity="0.45">
<path d="M120,270 L200,300 L90,350 Z"/><path d="M370,260 L330,300 L420,330 Z"/><path d="M195,160 L250,150 L260,190 L200,200 Z"/>
</g>
</g></g></g>
<g clip-path="url(#c19)"><g filter="url(#f20)"><g transform="translate(422.3 170.4) scale(0.13788)">
<g fill="#8a8a8a" opacity="0.75">
<path d="M0,105 L50,110 L60,200 L55,370 L0,370 Z"/>
<path d="M40,180 L100,230 L115,300 L100,330 L60,300 Z" opacity="0.6"/>
<path d="M470,126 L520,120 L520,227 L478,227 Z"/>
</g>
<g fill="#f2f2f2">
<path d="M23,112 L41,101 L106,155 L149,184 L163,162 L177,127 L213,91 L266,69 L309,73 L359,112 L395,162 L453,119 L496,87 L514,94 L510,119 L467,162 L438,205 L467,256 L481,299 L474,320 L431,313 L381,306 L323,342 L316,492 L273,492 L273,342 L266,342 L199,335 L156,313 L116,335 L112,300 L120,240 L70,184 L23,126 Z"/>
</g>
<g fill="#2a2a27"><path d="M240,205 L345,205 C342,240 320,262 292,263 C262,262 242,240 240,205 Z"/></g>
<g fill="#777" opacity="0.45">
<path d="M140,290 L250,305 L240,335 L125,328 Z"/><path d="M330,290 L460,300 L450,318 L330,330 Z"/>
</g>
</g></g></g>
<g clip-path="url(#c21)"><g><g transform="translate(266 86) scale(0.12550)">
<g fill="#ececec">
<path d="M40,45 L70,30 L115,40 L150,70 L162,110 L150,145 L120,162 L85,150 L50,120 L35,80 Z"/>
</g>
<g fill="#555"><ellipse cx="128" cy="72" rx="16" ry="13"/><ellipse cx="70" cy="95" rx="10" ry="12"/></g>
<g fill="#d8d8d8" opacity="0.55">
<path d="M120,170 L165,160 L215,210 L272,288 L288,302 L252,342 L185,352 L142,330 L122,262 Z"/>
<path d="M225,395 L315,402 L332,515 L262,528 L232,470 Z"/>
</g>
<g stroke="#f2f2f2" fill="none" stroke-linecap="round" stroke-linejoin="round">
<path d="M115,150 L150,200 L200,300 L250,400 L300,500 L345,590" stroke-width="16"/>
<path d="M170,150 L210,165 L245,210 L250,232" stroke-width="16"/>
<path d="M118,210 L75,215 L40,245 L60,270 L95,290" stroke-width="13"/>
<path d="M250,500 L190,515 L175,540 L200,570 L240,610 L235,660 L218,690" stroke-width="14"/>
<path d="M320,440 L360,420 L385,450 L395,510 L420,530 L468,548 L462,575" stroke-width="14"/>
</g>
<g stroke="#f2f2f2" fill="none" stroke-width="5" opacity="0.8">
<path d="M150,205 L120,260 M165,230 L140,300 M185,260 L165,330 M205,290 L195,345 M170,205 L230,250 M185,235 L260,290 M200,265 L270,300"/>
</g>
<ellipse cx="262" cy="428" rx="100" ry="40" transform="rotate(-22 262 428)" fill="none" stroke="#d4c21c" stroke-width="7" stroke-dasharray="12 8"/>
</g></g></g>
<g clip-path="url(#ce0)">
<path transform="translate(23.1 424.5) scale(0.13423)" fill="#f4f4f4" d="M40,185 L60,130 L100,95 L160,65 L240,45 L320,55 L380,70 L400,110 L470,175 L490,220 L470,290 L420,350 L360,400 L320,440 L270,465 L200,470 L130,465 L110,440 L100,380 L80,300 L40,250 L30,210 Z"/>
<g filter="url(#t23)"><path transform="translate(23.1 424.5) scale(0.13423)" d="M395,115 L470,178 L490,222 L470,290 L420,350 L360,400 L335,420 L330,380 L380,300 L410,220 Z" fill="#000"/></g>
<g filter="url(#t24)"><path transform="translate(23.1 424.5) scale(0.13423)" d="M130,130 L200,95 L290,100 L330,140 L370,200 L360,260 L340,330 L300,380 L240,400 L190,380 L140,330 L110,260 L105,200 Z" fill="#000"/></g>
</g>
<g clip-path="url(#ce1)">
<path transform="translate(101.9 424.5) scale(0.13462)" fill="#f4f4f4" d="M55,120 L80,80 L150,25 L250,20 L340,30 L400,60 L450,130 L470,210 L460,270 L420,330 L385,400 L355,470 L300,482 L230,462 L190,442 L180,400 L150,360 L110,290 L60,180 Z M430,0 L480,0 L478,40 L450,55 L430,30 Z M20,0 L60,0 L55,15 L25,18 Z"/>
<g filter="url(#t26)"><path transform="translate(101.9 424.5) scale(0.13462)" d="M85,130 L150,55 L250,45 L340,55 L400,90 L440,150 L450,220 L420,290 L380,340 L330,360 L250,350 L180,320 L130,270 L100,200 Z" fill="#000"/></g>
<g filter="url(#t27)"><path transform="translate(101.9 424.5) scale(0.13462)" d="M235,215 L300,195 L370,212 L398,262 L372,312 L300,320 L248,292 Z" fill="#000"/></g>
<g filter="url(#t28)"><path transform="translate(101.9 424.5) scale(0.13462)" d="M195,378 L340,382 L345,452 L300,468 L232,450 L202,428 Z" fill="#000"/></g>
</g>
<g clip-path="url(#ce2)">
<path transform="translate(179.6 424.5) scale(0.13538)" fill="#f4f4f4" d="M20,90 L80,50 L150,30 L250,20 L320,25 L400,60 L450,100 L490,150 L500,220 L470,290 L430,370 L400,420 L330,470 L270,490 L140,470 L110,440 L80,350 L60,280 L30,200 L15,140 Z M20,0 L80,0 L70,12 L30,15 Z"/>
<g filter="url(#t30)"><path transform="translate(179.6 424.5) scale(0.13538)" d="M420,100 L460,115 L495,160 L500,220 L480,260 L440,250 Z" fill="#000"/></g>
<g filter="url(#t31)"><path transform="translate(179.6 424.5) scale(0.13538)" d="M100,130 L160,85 L250,75 L340,95 L400,140 L430,210 L420,290 L380,350 L320,380 L240,370 L170,340 L120,290 L95,210 Z" fill="#000"/></g>
<g filter="url(#t32)"><path transform="translate(179.6 424.5) scale(0.13538)" d="M290,225 C330,205 390,210 420,250 C430,290 400,330 350,335 C310,335 280,300 280,265 Z" fill="#000"/></g>
</g>
<text x="36.8" y="17.7" font-size="7.6" textLength="43.0" lengthAdjust="spacingAndGlyphs" fill="#231f20" >Healthy mice</text>
<text x="105.8" y="17.7" font-size="7.6" textLength="45.2" lengthAdjust="spacingAndGlyphs" fill="#231f20" >MOPC315.BM</text>
<text x="151.4" y="14.6" font-size="5.4" textLength="17.0" lengthAdjust="spacingAndGlyphs" fill="#231f20" >Control</text>
<text x="185.4" y="17.7" font-size="7.6" textLength="45.2" lengthAdjust="spacingAndGlyphs" fill="#231f20" >MOPC315.BM</text>
<text x="231.00000000000003" y="14.6" font-size="5.4" textLength="14.6" lengthAdjust="spacingAndGlyphs" fill="#231f20" >Il34KD</text>
<text x="35.6" y="421.5" font-size="7.6" textLength="43.4" lengthAdjust="spacingAndGlyphs" fill="#231f20" >Healthy mice</text>
<text x="105.8" y="421.5" font-size="7.6" textLength="45.0" lengthAdjust="spacingAndGlyphs" fill="#231f20" >MOPC315.BM</text>
<text x="151.20000000000002" y="418.4" font-size="5.4" textLength="16.4" lengthAdjust="spacingAndGlyphs" fill="#231f20" >Control</text>
<text x="185.2" y="421.4" font-size="7.6" textLength="45.0" lengthAdjust="spacingAndGlyphs" fill="#231f20" >MOPC315.BM</text>
<text x="230.6" y="418.29999999999995" font-size="5.4" textLength="14.6" lengthAdjust="spacingAndGlyphs" fill="#231f20" >Il34KD</text>
<text x="363.5" y="17.75" font-size="7.2" fill="#231f20" >5</text>
<text x="368.0" y="14.4" font-size="5.0" fill="#231f20" >th</text>
<text x="373.0" y="17.75" font-size="7.2" textLength="26.4" lengthAdjust="spacingAndGlyphs" fill="#231f20" >Lumber</text>
<text x="438.6" y="17.75" font-size="7.2" fill="#231f20" >6</text>
<text x="443.1" y="14.4" font-size="5.0" fill="#231f20" >th</text>
<text x="448.1" y="17.75" font-size="7.2" textLength="27.8" lengthAdjust="spacingAndGlyphs" fill="#231f20" >Lumber</text>
<text transform="translate(341.7 77.5) rotate(-90)" font-size="7.2" fill="#231f20" textLength="42.9" lengthAdjust="spacingAndGlyphs">Healthy mice</text>
<text transform="translate(341.7 159.8) rotate(-90)" font-size="7.2" fill="#231f20" textLength="42.5" lengthAdjust="spacingAndGlyphs">MOPC315.BM</text>
<text transform="translate(339.0 117.0) rotate(-90)" font-size="4.9" fill="#231f20" textLength="18.0" lengthAdjust="spacingAndGlyphs">Control</text>
<text transform="translate(341.7 235.9) rotate(-90)" font-size="7.2" fill="#231f20" textLength="44.5" lengthAdjust="spacingAndGlyphs">MOPC315.BM</text>
<text transform="translate(339.0 191.0) rotate(-90)" font-size="4.9" fill="#231f20" textLength="15.8" lengthAdjust="spacingAndGlyphs">Il34KD</text>
<rect x="0" y="0" width="520" height="1.2" fill="#111"/>
<rect x="0" y="715.8" width="520" height="1.2" fill="#111"/>
<rect x="0" y="0" width="1.8" height="717" fill="#5c5c5c"/>
<rect x="518.2" y="0" width="1.8" height="717" fill="#5c5c5c"/>
</svg></body></html>
